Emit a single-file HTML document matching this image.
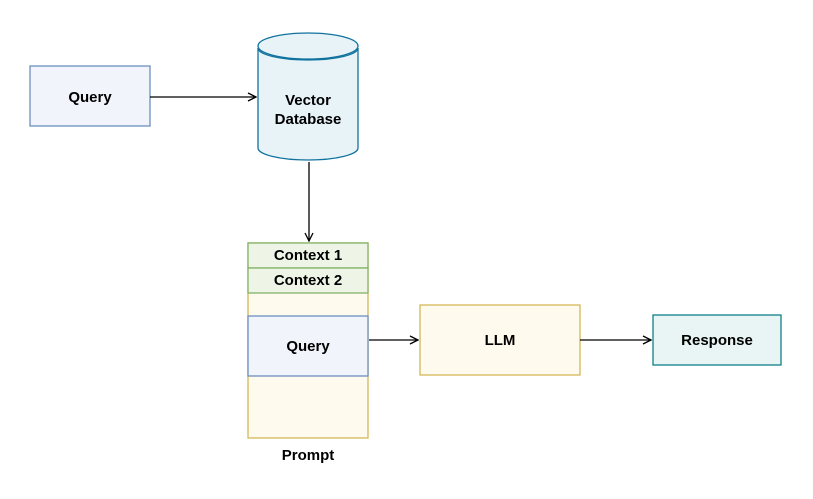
<!DOCTYPE html>
<html><head><style>body{margin:0;background:#fff}</style></head><body>
<svg width="813" height="494" viewBox="0 0 813 494" xmlns="http://www.w3.org/2000/svg" font-family="Liberation Sans, sans-serif" font-weight="bold" font-size="15" text-anchor="middle">
<defs>
<marker id="a" markerWidth="10" markerHeight="10" refX="9" refY="5" orient="auto" markerUnits="userSpaceOnUse"><path d="M1,1 L9,5 L1,9" fill="none" stroke="#000" stroke-width="1.3"/></marker>
</defs>
<rect x="30" y="66" width="120" height="60" fill="#f1f5fb" stroke="#6c8ebf" stroke-width="1.3"/>
<text x="90" y="102">Query</text>
<path d="M258,48 L258,148 A50,12 0 0 0 358,148 L358,48" fill="#e8f3f8" stroke="#10739e" stroke-width="1.3"/>
<ellipse cx="308" cy="46" rx="50" ry="13" fill="#e8f3f8" stroke="#10739e" stroke-width="1.3"/>
<path d="M258,48 A50,12 0 0 0 358,48" fill="none" stroke="#10739e" stroke-width="1.3"/>
<text x="308" y="105">Vector</text><text x="308" y="124">Database</text>
<line x1="150" y1="97" x2="256" y2="97" stroke="#000" stroke-width="1.3" marker-end="url(#a)"/>
<line x1="309" y1="162" x2="309" y2="241" stroke="#000" stroke-width="1.3" marker-end="url(#a)"/>
<rect x="248" y="243" width="120" height="195" fill="#fffaee" stroke="#d6b656" stroke-width="1.3"/>
<rect x="248" y="243" width="120" height="25" fill="#eef5e6" stroke="#82b366" stroke-width="1.3"/>
<rect x="248" y="268" width="120" height="25" fill="#eef5e6" stroke="#82b366" stroke-width="1.3"/>
<text x="308" y="260">Context 1</text><text x="308" y="285">Context 2</text>
<rect x="248" y="316" width="120" height="60" fill="#f1f5fb" stroke="#6c8ebf" stroke-width="1.3"/>
<text x="308" y="351">Query</text>
<text x="308" y="460">Prompt</text>
<line x1="369" y1="340" x2="418" y2="340" stroke="#000" stroke-width="1.3" marker-end="url(#a)"/>
<rect x="420" y="305" width="160" height="70" fill="#fffaee" stroke="#d6b656" stroke-width="1.3"/>
<text x="500" y="345">LLM</text>
<line x1="580" y1="340" x2="651" y2="340" stroke="#000" stroke-width="1.3" marker-end="url(#a)"/>
<rect x="653" y="315" width="128" height="50" fill="#e8f5f4" stroke="#0e8088" stroke-width="1.3"/>
<text x="717" y="345">Response</text>
</svg>
</body></html>
